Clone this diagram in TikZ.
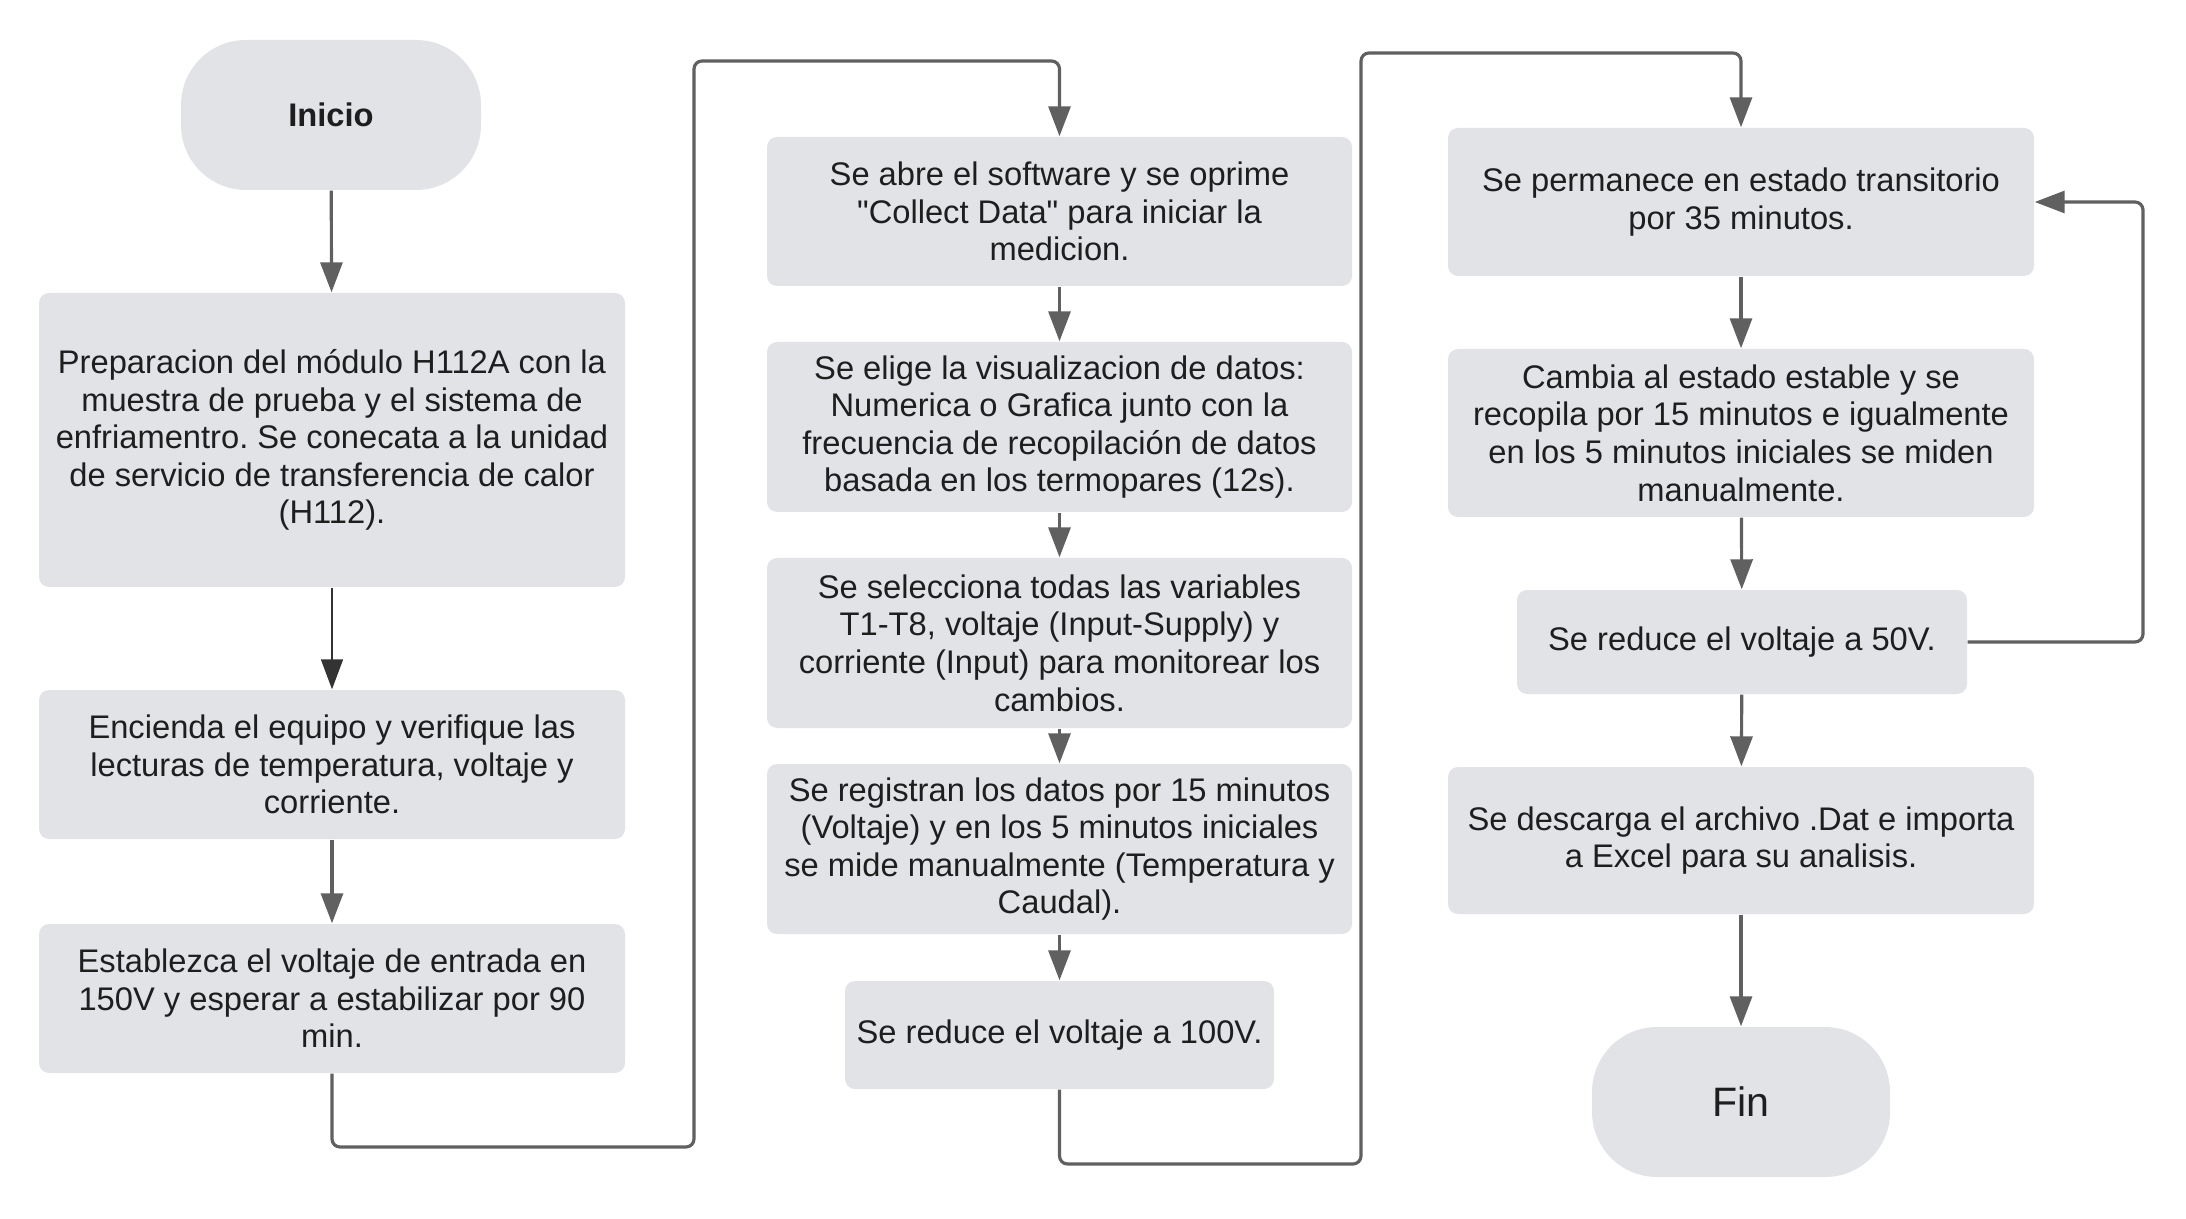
\documentclass[tikz,border=0pt]{standalone}
\usepackage{fontspec}
\setmainfont{Liberation Sans}[Ligatures=TeXOff]
\usetikzlibrary{arrows.meta}
\definecolor{cajagris}{HTML}{E1E3E7}
\definecolor{flecha}{HTML}{606060}
\definecolor{flechaosc}{HTML}{333333}
\definecolor{texto}{HTML}{1E1E1E}
\frenchspacing

\begin{document}
\begin{tikzpicture}[
  caja/.style={fill=cajagris, rounded corners=0.1cm, align=center, text=texto,
    inner sep=0pt, font=\fontsize{9.3}{10.7}\selectfont},
  terminal/.style={caja, rounded corners=0.65cm, minimum width=3cm, minimum height=1.5cm},
  flujo/.style={draw=flecha, line width=0.9pt, rounded corners=0.08cm,
    -{Triangle[length=0.3cm,width=0.22cm]}}]
  \useasboundingbox (0,0) rectangle (21.86,-12.19);
  % Columna 1
  \node[terminal, font=\fontsize{9.3}{10.7}\selectfont\bfseries] (inicio) at (3.31,-1.15) {Inicio};
  \node[caja, minimum width=5.86cm, minimum height=2.94cm] (prep) at (3.32,-4.40)
    {Preparacion del módulo H112A con la\\muestra de prueba y el sistema de\\enfriamentro. Se conecata a la unidad\\de servicio de transferencia de calor\\(H112).};
  \node[caja, minimum width=5.86cm, minimum height=1.49cm] (enc) at (3.32,-7.645)
    {Encienda el equipo y verifique las\\lecturas de temperatura, voltaje y\\corriente.};
  \node[caja, minimum width=5.86cm, minimum height=1.49cm] (est) at (3.32,-9.985)
    {Establezca el voltaje de entrada en\\150V y esperar a estabilizar por 90\\min.};
  % Columna 2
  \node[caja, minimum width=5.85cm, minimum height=1.49cm] (abre) at (10.595,-2.115)
    {Se abre el software y se oprime\\"Collect Data" para iniciar la\\medicion.};
  \node[caja, minimum width=5.85cm, minimum height=1.70cm] (elige) at (10.595,-4.27)
    {Se elige la visualizacion de datos:\\Numerica o Grafica junto con la\\frecuencia de recopilación de datos\\basada en los termopares (12s).};
  \node[caja, minimum width=5.85cm, minimum height=1.70cm] (sel) at (10.595,-6.43)
    {Se selecciona todas las variables\\T1-T8, voltaje (Input-Supply) y\\corriente (Input) para monitorear los\\cambios.};
  \node[caja, minimum width=5.85cm, minimum height=1.70cm] (reg) at (10.595,-8.49)
    {Se registran los datos por 15 minutos\\(Voltaje) y en los 5 minutos iniciales\\se mide manualmente (Temperatura y\\Caudal).};
  \node[caja, minimum width=4.29cm, minimum height=1.08cm] (red100) at (10.595,-10.35)
    {Se reduce el voltaje a 100V.};
  % Columna 3
  \node[caja, minimum width=5.86cm, minimum height=1.48cm] (perm) at (17.41,-2.02)
    {Se permanece en estado transitorio\\por 35 minutos.};
  \node[caja, minimum width=5.86cm, minimum height=1.68cm] (camb) at (17.41,-4.33)
    {Cambia al estado estable y se\\recopila por 15 minutos e igualmente\\en los 5 minutos iniciales se miden\\manualmente.};
  \node[caja, minimum width=4.50cm, minimum height=1.04cm] (red50) at (17.42,-6.42)
    {Se reduce el voltaje a 50V.};
  \node[caja, minimum width=5.86cm, minimum height=1.47cm] (desc) at (17.41,-8.405)
    {Se descarga el archivo .Dat e importa\\a Excel para su analisis.};
  \node[terminal, minimum width=2.98cm, font=\fontsize{11.7}{13}\selectfont] (fin) at (17.41,-11.02) {Fin};
  % Puntos de quiebre
  \coordinate (q1) at (6.94,-11.47);
  \coordinate (q2) at (6.94,-0.61);
  \coordinate (q3) at (13.61,-11.64);
  \coordinate (q4) at (13.61,-0.53);
  \coordinate (q5) at (21.43,-2.02);
  % Flechas
  \draw[flujo] (inicio) -- (prep);
  \draw[flujo, draw=flechaosc, line width=0.5pt] (prep) -- (enc);
  \draw[flujo] (enc) -- (est);
  \draw[flujo] (est.south) |- (q1) -- (q2) -| (abre.north);
  \draw[flujo] (abre) -- (elige);
  \draw[flujo] (elige) -- (sel);
  \draw[flujo] (sel) -- (reg);
  \draw[flujo] (reg) -- (red100);
  \draw[flujo] (red100.south) |- (q3) -- (q4) -| (perm.north);
  \draw[flujo] (perm) -- (camb);
  \draw[flujo] (camb) -- (red50);
  \draw[flujo] (red50.east) -| (q5) -- (perm.east);
  \draw[flujo] (red50) -- (desc);
  \draw[flujo] (desc) -- (fin);
\end{tikzpicture}
\end{document}
